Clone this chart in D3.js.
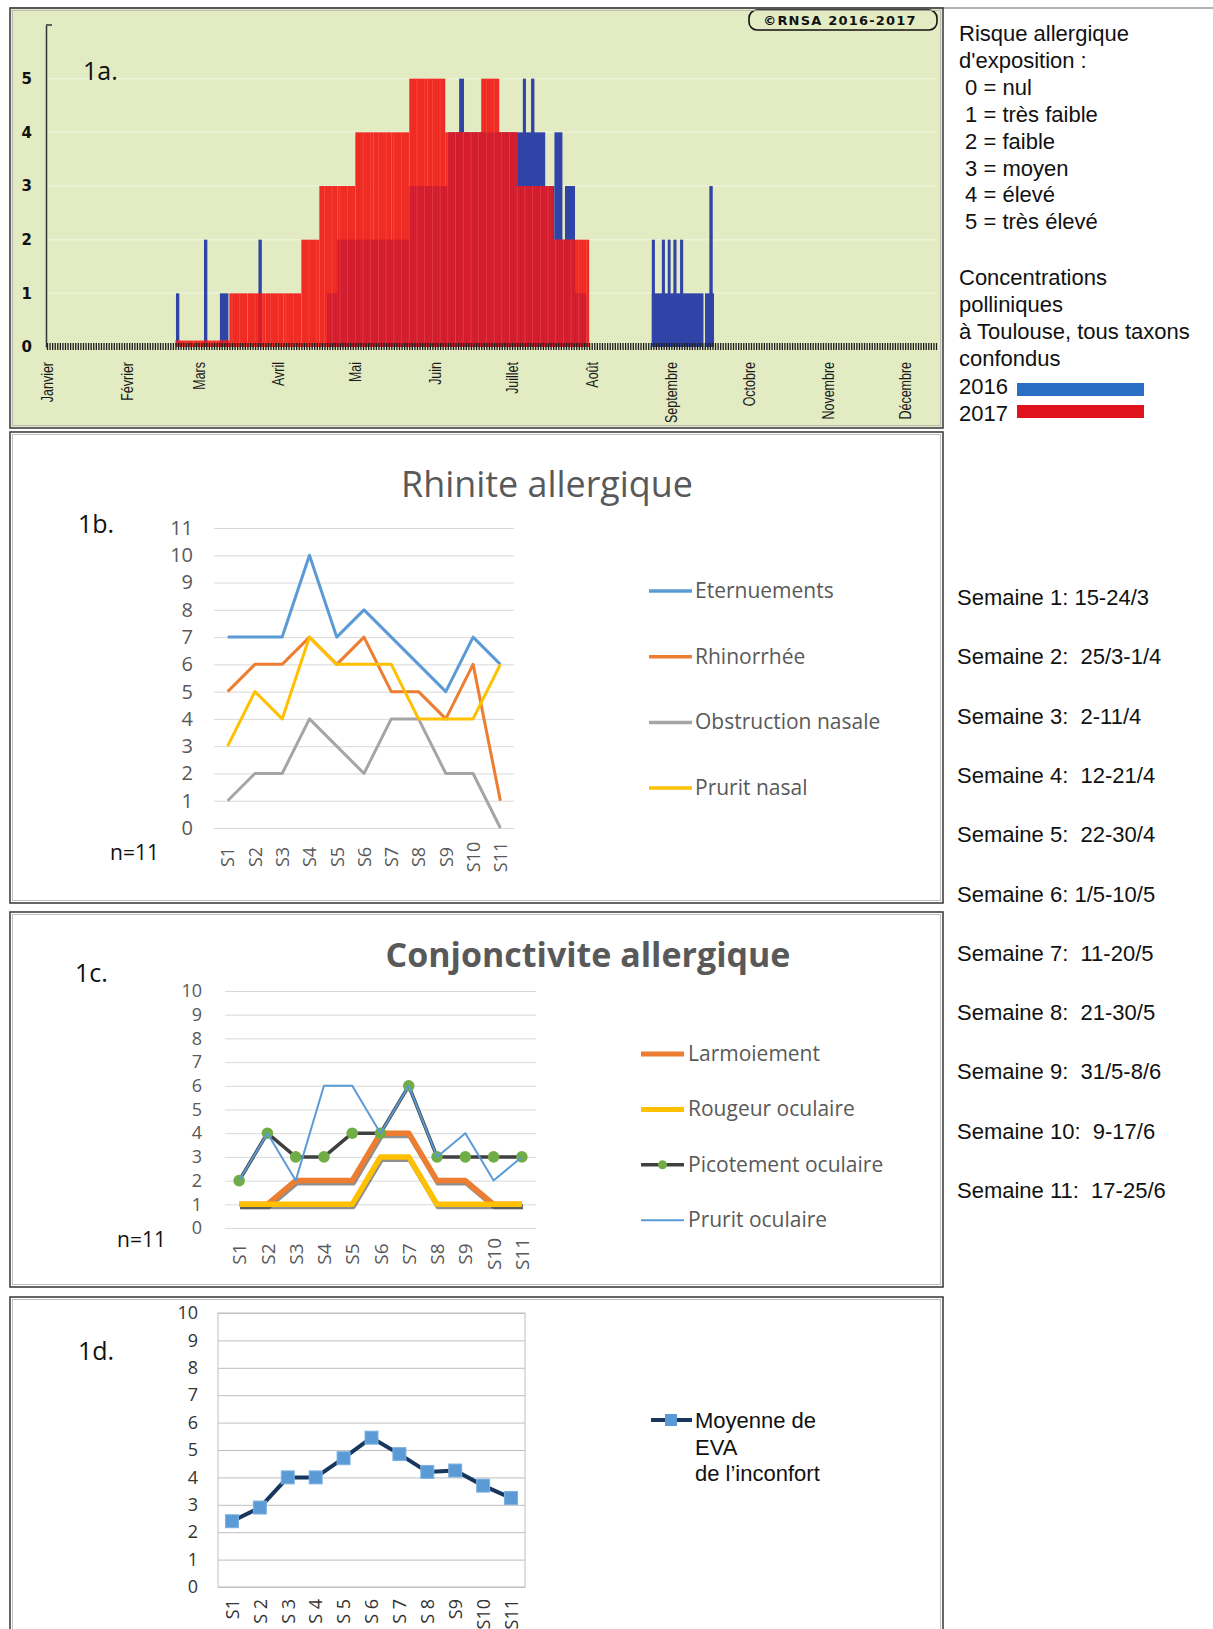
<!DOCTYPE html>
<html><head><meta charset="utf-8">
<script src="https://cdn.jsdelivr.net/npm/d3@7"></script>
<style>
html,body{margin:0;padding:0;background:#fff;}
svg{display:block;}
text{white-space:pre;}
</style></head><body>
<svg id="c" width="1213" height="1629"></svg>
<script>
// ================= DATA =================
// Panel 1a : risque allergique (RNSA, Toulouse)
const riskLevels = [0, 1, 2, 3, 4, 5];
const monthNames = ["Janvier","Février","Mars","Avril","Mai","Juin","Juillet","Août","Septembre","Octobre","Novembre","Décembre"];
const monthStartDays = [0, 31, 59, 90, 120, 151, 181, 212, 243, 273, 304, 334];
// 2017 : weekly risk, week start (day of year) and level
const weekStart2017 = [50,57,64,71,78,85,92,99,106,113,120,127,134,141,148,155,162,169,176,183,190,197,204];
const risk2017      = [0.12,0.12,0.12,1,1,1,1,2,3,3,4,4,4,5,5,4,4,5,4,3,3,2,2];
// 2016 : [start day, end day, level]
const spans2016 = [
  [50.2,51.5,1],[61.1,62.4,2],[67.3,70.6,1],[82.3,83.6,2],
  [109,113,1],[113,141,2],[141,156,3],[156,184.1,4],[160.4,162.3,5],
  [184.1,193.9,4],[185.2,186.4,5],[188.4,189.7,5],[193.9,197.5,3],
  [197.5,200.6,4],[200.6,201.6,2],[201.6,205.5,3],[205.5,210,1],
  [235.4,255.5,1],[256.1,259.6,1],
  [235.4,236.6,2],[239.3,240.5,2],[241.6,242.7,2],[243.8,245,2],[246.4,247.6,2],
  [257.8,259.1,3]
];
const riskLegend = ["Risque allergique","d'exposition :"," 0 = nul"," 1 = très faible"," 2 = faible"," 3 = moyen"," 4 = élevé"," 5 = très élevé"];
const pollenLegend = ["Concentrations","polliniques","à Toulouse, tous taxons","confondus"];
const years = ["2016","2017"];

// Weeks
const weeks = ["S1","S2","S3","S4","S5","S6","S7","S8","S9","S10","S11"];
const weeks1d = ["S1","S 2","S 3","S 4","S 5","S 6","S 7","S 8","S9","S10","S11"];
const weekDates = ["Semaine 1: 15-24/3","Semaine 2:  25/3-1/4","Semaine 3:  2-11/4","Semaine 4:  12-21/4",
  "Semaine 5:  22-30/4","Semaine 6: 1/5-10/5","Semaine 7:  11-20/5","Semaine 8:  21-30/5",
  "Semaine 9:  31/5-8/6","Semaine 10:  9-17/6","Semaine 11:  17-25/6"];

// Panel 1b : Rhinite allergique
const rhiniteNames = ["Eternuements","Rhinorrhée","Obstruction nasale","Prurit nasal"];
const eternuements = [7,7,7,10,7,8,7,6,5,7,6];
const rhinorrhee   = [5,6,6,7,6,7,5,5,4,6,1];
const obstruction  = [1,2,2,4,3,2,4,4,2,2,0];
const pruritNasal  = [3,5,4,7,6,6,6,4,4,4,6];

// Panel 1c : Conjonctivite allergique
const conjNames = ["Larmoiement","Rougeur oculaire","Picotement oculaire","Prurit oculaire"];
const larmoiement = [1,1,2,2,2,4,4,2,2,1,1];
const rougeur     = [1,1,1,1,1,3,3,1,1,1,1];
const picotement  = [2,4,3,3,4,4,6,3,3,3,3];
const pruritOcul  = [2,4,2,6,6,4,6,3,4,2,3];

// Panel 1d : EVA
const evaLegend = ["Moyenne de","EVA","de l\u2019inconfort"];
const evaMean = [2.4,2.9,4.0,4.0,4.7,5.45,4.85,4.2,4.25,3.7,3.25];

// ================= DRAW =================
const svg = d3.select("#c");
const FC = "'Open Sans', sans-serif";
const FA = "'Liberation Sans', Arial, sans-serif";
const defs = svg.append("defs");

function fitWidth(sel, w){
  const len = sel.node().getComputedTextLength();
  const fs = parseFloat(sel.attr("font-size"));
  sel.attr("font-size", fs * w / len);
}

// ---------- frames ----------
function frame(y0, y1){
  svg.append("rect").attr("x",10).attr("y",y0).attr("width",933).attr("height",y1-y0)
    .attr("fill","none").attr("stroke","#404040").attr("stroke-width",1.6);
  svg.append("rect").attr("x",12.5).attr("y",y0+2.5).attr("width",928).attr("height",y1-y0-5)
    .attr("fill","none").attr("stroke","#b0b0b0").attr("stroke-width",0.8);
}

// ---------- 1a ----------
const g1 = svg.append("g");
g1.append("rect").attr("x",11).attr("y",9).attr("width",931).attr("height",418).attr("fill","#E3EBC2");
svg.append("line").attr("x1",10).attr("x2",1213).attr("y1",8).attr("y2",8).attr("stroke","#666").attr("stroke-width",1.2);
frame(8, 428);

const xDay = d3.scaleLinear().domain([0, 346]).range([47, 936]);
const yRisk = d3.scaleLinear().domain([0, 6]).range([347, 25]);

g1.append("g").selectAll("line").data(riskLevels.slice(1)).join("line")
  .attr("x1",47).attr("x2",936).attr("y1",d=>yRisk(d)).attr("y2",d=>yRisk(d))
  .attr("stroke","#EDF3D6").attr("stroke-width",1.5);

const redData = weekStart2017.map((s,i)=>({s:s, e:s+7, v:risk2017[i]}));

function spanRects(sel, fill){
  sel.selectAll("rect").data(spans2016).join("rect")
    .attr("x",d=>xDay(d[0])).attr("width",d=>xDay(d[1])-xDay(d[0]))
    .attr("y",d=>yRisk(d[2])).attr("height",d=>yRisk(0)-yRisk(d[2]))
    .attr("fill",fill);
}
function redRects(sel, fill){
  sel.selectAll("rect").data(redData).join("rect")
    .attr("x",d=>xDay(d.s)).attr("width",d=>xDay(d.e)-xDay(d.s))
    .attr("y",d=>yRisk(d.v)).attr("height",d=>yRisk(0)-yRisk(d.v))
    .attr("fill",fill);
}
const clip = defs.append("clipPath").attr("id","redClip");
redRects(clip, "#000");

spanRects(g1.append("g"), "#2F44A6");
redRects(g1.append("g"), "#EF2A22");
spanRects(g1.append("g").attr("clip-path","url(#redClip)"), "#D21B2D");
// daily stripes of the 2017 bars
g1.append("g").attr("clip-path","url(#redClip)").selectAll("line")
  .data(d3.range(weekStart2017[0], weekStart2017[weekStart2017.length-1]+7)).join("line")
  .attr("x1",d=>xDay(d)).attr("x2",d=>xDay(d)).attr("y1",yRisk(6)).attr("y2",yRisk(0))
  .attr("stroke","#FF7F72").attr("stroke-width",0.6).attr("opacity",d=>(d%3===0)?0.55:0.15);

// day ticks on x axis
const axDays = d3.axisBottom(xDay).tickValues(d3.range(0,347)).tickSize(7).tickFormat("");
const gd = g1.append("g").attr("transform","translate(0,343)").call(axDays);
gd.select(".domain").remove();
gd.selectAll("line").attr("stroke","#1a1a1a").attr("stroke-width",1.3);

// month labels
const axMonths = d3.axisBottom(xDay).tickValues(monthStartDays).tickSize(0).tickFormat((d,i)=>monthNames[i]);
const gm = g1.append("g").attr("transform","translate(0,362)").call(axMonths);
gm.select(".domain").remove();
gm.selectAll("text").attr("x",0).attr("y",0).attr("dy","0.35em")
  .attr("transform","rotate(-90) scale(0.78,1)").attr("text-anchor","end")
  .attr("font-family",FA).attr("font-size",16).attr("fill","#1a1a1a");

// y axis
const axY = d3.axisLeft(yRisk).tickValues(riskLevels).tickFormat(d3.format("d"))
  .tickSize(0).tickSizeOuter(0).tickPadding(14);
const gy = g1.append("g").attr("transform","translate(46,0)").call(axY);
gy.select(".domain").attr("stroke","#333").attr("stroke-width",1.5);
gy.selectAll("text").attr("font-family","'DejaVu Sans',sans-serif").attr("font-weight","bold")
  .attr("font-size",15).attr("fill","#111");
g1.append("line").attr("x1",46).attr("x2",52).attr("y1",25).attr("y2",25).attr("stroke","#333").attr("stroke-width",1.5);

// label 1a.
svg.append("text").attr("x",83).attr("y",80).attr("font-family",FC).attr("font-size",25).attr("fill","#111").text("1a.");

// RNSA box
g1.append("rect").attr("x",749).attr("y",10).attr("width",188).attr("height",20).attr("rx",8)
  .attr("fill","none").attr("stroke","#111").attr("stroke-width",1.6);
g1.append("text").attr("x",840).attr("y",25).attr("text-anchor","middle")
  .attr("font-family","'DejaVu Sans',sans-serif").attr("font-weight","bold").attr("font-size",13)
  .attr("letter-spacing",1.2).attr("fill","#111").text("©RNSA 2016-2017");

// legend text 1a
const lg = svg.append("g").attr("font-family",FA).attr("font-size",22).attr("fill","#111");
lg.selectAll(".r").data(riskLegend).join("text").attr("class","r")
  .attr("x",959).attr("y",(d,i)=>41 + i*26.9).text(d=>d);
lg.selectAll(".p").data(pollenLegend).join("text").attr("class","p")
  .attr("x",959).attr("y",(d,i)=>285 + i*27).text(d=>d);
lg.selectAll(".yr").data(years).join("text").attr("class","yr")
  .attr("x",959).attr("y",(d,i)=>394 + i*26.5).text(d=>d);
const yearColors = {"2016":"#2A6FC4","2017":"#E0131C"};
svg.selectAll(".sw").data(years).join("rect").attr("class","sw")
  .attr("x",1017).attr("width",127).attr("y",(d,i)=>383 + i*22).attr("height",13)
  .attr("fill",d=>yearColors[d]);

// right column weeks
svg.append("g").selectAll("text").data(weekDates).join("text")
  .attr("x",957).attr("y",(d,i)=>605 + i*59.3)
  .attr("font-family",FA).attr("font-size",22).attr("fill","#111").text(d=>d);

// ---------- generic helpers ----------
function yAxisGrid(g, y, x0, x1, pad, fs, color, gridColor){
  const ax = d3.axisLeft(y).ticks(y.domain()[1]).tickSize(-(x1-x0)).tickPadding(pad);
  const ga = g.append("g").attr("transform",`translate(${x0},0)`).call(ax);
  ga.select(".domain").remove();
  ga.selectAll("line").attr("stroke",gridColor).attr("stroke-width",1);
  ga.selectAll("text").attr("font-family",FC).attr("font-size",fs).attr("fill",color);
  return ga;
}
function xLabels(g, x, yPos, fs, color, anchor, labels){
  const ax = d3.axisBottom(x).tickSize(0);
  if (labels) ax.tickFormat((d,i)=>labels[i]);
  const ga = g.append("g").attr("transform",`translate(0,${yPos})`).call(ax);
  ga.select(".domain").remove();
  ga.selectAll("text").attr("x",0).attr("y",0).attr("dy","0.35em")
    .attr("transform","rotate(-90)").attr("text-anchor",anchor)
    .attr("font-family",FC).attr("font-size",fs).attr("fill",color);
}

// ---------- 1b ----------
frame(432, 903);
const g2 = svg.append("g");
const x1b = d3.scalePoint().domain(weeks).range([214,514]).padding(0.5);
const y1b = d3.scaleLinear().domain([0,11]).range([828,528]);
yAxisGrid(g2, y1b, 214, 514, 21, 20, "#595959", "#D9D9D9");
xLabels(g2, x1b, 857, 18, "#595959", "middle");
const line1b = d3.line().x((d,i)=>x1b(weeks[i])).y(d=>y1b(d));
const rhiniteSeries = [eternuements, rhinorrhee, obstruction, pruritNasal];
const rhiniteColors = ["#5B9BD5","#ED7D31","#A5A5A5","#FFC000"];
g2.selectAll(".l").data(rhiniteSeries).join("path").attr("class","l")
  .attr("d",line1b).attr("fill","none").attr("stroke",(d,i)=>rhiniteColors[i])
  .attr("stroke-width",3).attr("stroke-linejoin","round");
const t1b = g2.append("text").attr("x",547).attr("y",497).attr("text-anchor","middle")
  .attr("font-family",FC).attr("font-size",32).attr("fill","#595959").text("Rhinite allergique");
fitWidth(t1b, 292);
const leg1b = g2.append("g");
rhiniteNames.forEach((n,i)=>{
  const yy = 591 + i*65.7;
  leg1b.append("line").attr("x1",649).attr("x2",692).attr("y1",yy).attr("y2",yy)
    .attr("stroke",rhiniteColors[i]).attr("stroke-width",3.5);
  leg1b.append("text").attr("x",695).attr("y",yy+7).attr("font-family",FC).attr("font-size",21)
    .attr("fill","#595959").text(n);
});
svg.append("text").attr("x",78).attr("y",533).attr("font-family",FC).attr("font-size",25).attr("fill","#111").text("1b.");
svg.append("text").attr("x",110).attr("y",860).attr("font-family",FC).attr("font-size",21).attr("fill","#111").text("n=11");

// ---------- 1c ----------
frame(912, 1287);
const g3 = svg.append("g");
const x1c = d3.scalePoint().domain(weeks).range([225,536]).padding(0.5);
const y1c = d3.scaleLinear().domain([0,10]).range([1228,991]);
yAxisGrid(g3, y1c, 225, 536, 23, 18, "#595959", "#D9D9D9");
xLabels(g3, x1c, 1254, 19, "#595959", "middle");
const line1c = d3.line().x((d,i)=>x1c(weeks[i])).y(d=>y1c(d));
const conjColors = ["#ED7D31","#FFC000","#404040","#5B9BD5"];
// shadows of thick lines
g3.selectAll(".sh").data([larmoiement, rougeur]).join("path").attr("class","sh")
  .attr("d",line1c).attr("fill","none").attr("stroke","#333").attr("opacity",0.55)
  .attr("stroke-width",5).attr("transform","translate(1,2.5)").attr("stroke-linejoin","round");
g3.append("path").datum(larmoiement).attr("d",line1c).attr("fill","none").attr("stroke",conjColors[0]).attr("stroke-width",5.5).attr("stroke-linejoin","round");
g3.append("path").datum(rougeur).attr("d",line1c).attr("fill","none").attr("stroke",conjColors[1]).attr("stroke-width",5.5).attr("stroke-linejoin","round");
g3.append("path").datum(picotement).attr("d",line1c).attr("fill","none").attr("stroke",conjColors[2]).attr("stroke-width",3.5).attr("stroke-linejoin","round");
g3.selectAll(".mk").data(picotement).join("circle").attr("class","mk")
  .attr("cx",(d,i)=>x1c(weeks[i])).attr("cy",d=>y1c(d)).attr("r",5.8).attr("fill","#70AD47");
g3.append("path").datum(pruritOcul).attr("d",line1c).attr("fill","none").attr("stroke",conjColors[3]).attr("stroke-width",2).attr("stroke-linejoin","round");
const t1c = g3.append("text").attr("x",588).attr("y",967).attr("text-anchor","middle")
  .attr("font-family",FC).attr("font-weight","bold").attr("font-size",32).attr("fill","#595959").text("Conjonctivite allergique");
fitWidth(t1c, 405);
const leg1c = g3.append("g");
conjNames.forEach((n,i)=>{
  const yy = 1054 + i*55.4;
  leg1c.append("line").attr("x1",641).attr("x2",684).attr("y1",yy).attr("y2",yy)
    .attr("stroke",conjColors[i]).attr("stroke-width",i<2?5:(i===2?3.5:2));
  if (i===2) leg1c.append("circle").attr("cx",662.5).attr("cy",yy).attr("r",4.5).attr("fill","#70AD47");
  leg1c.append("text").attr("x",688).attr("y",yy+7).attr("font-family",FC).attr("font-size",21)
    .attr("fill","#595959").text(n);
});
svg.append("text").attr("x",75).attr("y",982).attr("font-family",FC).attr("font-size",25).attr("fill","#111").text("1c.");
svg.append("text").attr("x",117).attr("y",1247).attr("font-family",FC).attr("font-size",21).attr("fill","#111").text("n=11");

// ---------- 1d ----------
frame(1297, 1660);
const g4 = svg.append("g");
const x1d = d3.scalePoint().domain(weeks).range([218,525]).padding(0.5);
const y1d = d3.scaleLinear().domain([0,10]).range([1587,1313]);
yAxisGrid(g4, y1d, 218, 525, 20, 18, "#333", "#BFBFBF");
g4.append("rect").attr("x",218).attr("y",1313).attr("width",307).attr("height",274)
  .attr("fill","none").attr("stroke","#BFBFBF");
xLabels(g4, x1d, 1599, 18, "#333", "end", weeks1d);
const line1d = d3.line().x((d,i)=>x1d(weeks[i])).y(d=>y1d(d));
g4.append("path").datum(evaMean).attr("d",line1d).attr("fill","none").attr("stroke","#17375E")
  .attr("stroke-width",4).attr("stroke-linejoin","round");
g4.selectAll(".sq").data(evaMean).join("rect").attr("class","sq")
  .attr("x",(d,i)=>x1d(weeks[i])-6.5).attr("y",d=>y1d(d)-6.5).attr("width",13).attr("height",13)
  .attr("fill","#5B9BD5").attr("stroke","#7DB1E2").attr("stroke-width",1);
g4.append("line").attr("x1",651).attr("x2",692).attr("y1",1420).attr("y2",1420).attr("stroke","#17375E").attr("stroke-width",4);
g4.append("rect").attr("x",665).attr("y",1414).attr("width",12).attr("height",12).attr("fill","#5B9BD5");
g4.selectAll(".ev").data(evaLegend).join("text").attr("class","ev")
  .attr("x",695).attr("y",(d,i)=>1428 + i*26.6).attr("font-family",FA).attr("font-size",22)
  .attr("fill","#111").text(d=>d);
svg.append("text").attr("x",78).attr("y",1360).attr("font-family",FC).attr("font-size",25).attr("fill","#111").text("1d.");
</script>
</body></html>
